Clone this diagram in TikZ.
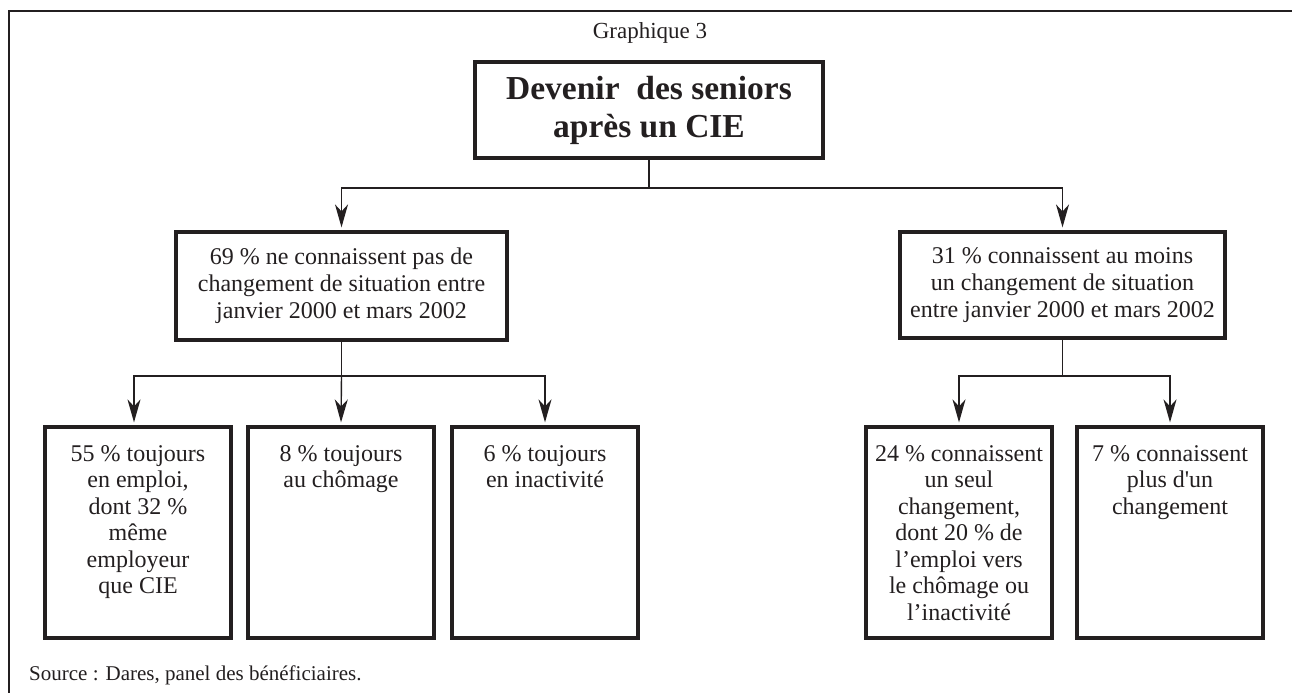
\documentclass[tikz,border=0pt]{standalone}
\usepackage{fontspec}
\setmainfont{Liberation Serif}
\usetikzlibrary{arrows.meta}
\definecolor{ink}{RGB}{35,31,32}
\tikzset{
  frame/.style={draw=ink, line width=2pt},
  box/.style={draw=ink, line width=3.2pt, inner sep=0pt, text=ink},
  titlebox/.style={box, minimum width=348pt, minimum height=96pt, align=center,
    font=\fontsize{33.5}{38}\selectfont\bfseries},
  midbox/.style={box, minimum height=108pt, align=center,
    font=\fontsize{24}{27}\selectfont},
  leafbox/.style={box, minimum width=186pt, minimum height=211pt,
    font=\fontsize{24}{26.5}\selectfont},
  conn/.style={draw=ink, line width=1.4pt},
  arr/.style={conn, -{Stealth[length=23pt,width=13pt,inset=7pt]}, shorten >=3pt},
  label/.style={text=ink, inner sep=0pt}
}
\newcommand{\leaftext}[1]{\parbox[c][211pt][t]{184pt}{\centering\rule{0pt}{34pt}#1}}
\begin{document}
\begin{tikzpicture}[x=1pt,y=-1pt]
\useasboundingbox (0,0) rectangle (1292,693);
% outer frame (top and left only)
\coordinate (fc) at (9,11);
\coordinate (fr) at (1292,11);
\coordinate (fb) at (9,693);
\draw[frame] (fr) -- (fc) -- (fb);

\node[label, anchor=base, font=\fontsize{23}{26}\selectfont] (cap) at (650,39) {Graphique 3};

\node[titlebox] (title) at (649,110) {Devenir\ \ des seniors\\après un CIE};

\node[midbox, minimum width=331pt] (mL) at (341.5,286)
  {69 \% ne connaissent pas de\\changement de situation entre\\janvier 2000 et mars 2002};
\node[midbox, minimum width=325pt, minimum height=106pt] (mR) at (1062.5,285)
  {31 \% connaissent au moins\\un changement de situation\\entre janvier 2000 et mars 2002};

\node[leafbox] (b1) at (138,532.5) {\leaftext{55 \% toujours\\en emploi,\\dont 32 \%\\même\\employeur\\que CIE}};
\node[leafbox] (b2) at (341,532.5) {\leaftext{8 \% toujours\\au chômage}};
\node[leafbox] (b3) at (545,532.5) {\leaftext{6 \% toujours\\en inactivité}};
\node[leafbox] (b4) at (959,532.5) {\leaftext{24 \% connaissent\\un seul\\changement,\\dont 20 \% de\\l’emploi vers\\le chômage ou\\l’inactivité}};
\node[leafbox] (b5) at (1170,532.5) {\leaftext{7 \% connaissent\\plus d\textquotesingle un\\changement}};

\node[label, anchor=base west, font=\fontsize{21}{24}\selectfont] (src) at (29,680)
  {Source : Dares, panel des bénéficiaires.};

% connectors
\coordinate (j1) at (title.south |- 0,188);
\draw[conn] (title.south) -- (j1);
\draw[arr] (j1) -| (mL.north);
\draw[arr] (j1) -| (mR.north);

\coordinate (j2) at (mL.south |- 0,376);
\draw[conn] (mL.south) -- (j2);
\draw[arr] (j2) -| ([xshift=-4pt]b1.north);
\draw[arr] (j2) -- (b2.north);
\draw[arr] (j2) -| (b3.north);

\coordinate (j3) at (mR.south |- 0,376);
\draw[conn] (mR.south) -- (j3);
\draw[arr] (j3) -| (b4.north);
\draw[arr] (j3) -| (b5.north);
\end{tikzpicture}
\end{document}
